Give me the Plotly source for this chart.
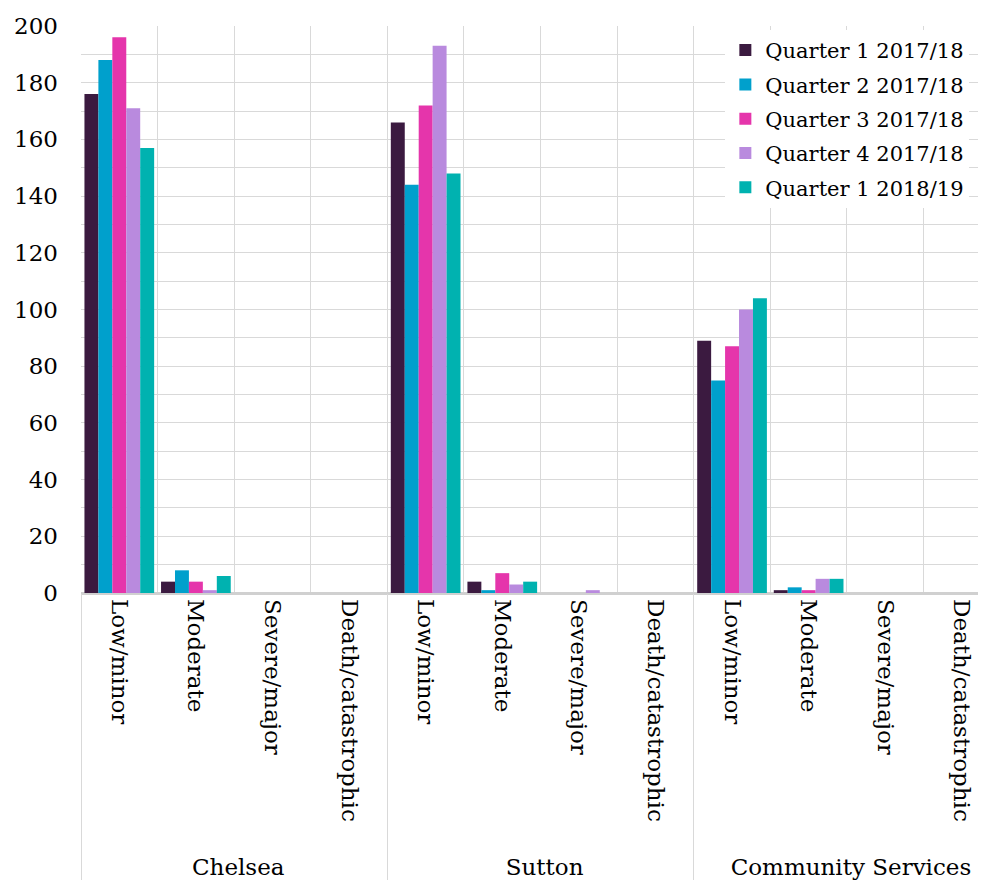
import plotly.graph_objects as go

groups = ["Chelsea", "Sutton", "Community Services"]
severities = ["Low/minor", "Moderate", "Severe/major", "Death/catastrophic"]
series_names = ["Quarter 1 2017/18", "Quarter 2 2017/18", "Quarter 3 2017/18",
                "Quarter 4 2017/18", "Quarter 1 2018/19"]
colors = ["#3b1a40", "#00a0cc", "#e535ab", "#b98ade", "#00b2b0"]

# values per series, ordered Chelsea(4), Sutton(4), Community Services(4)
q1_1718 = [176, 4, 0, 0, 166, 4, 0, 0, 89, 1, 0, 0]
q2_1718 = [188, 8, 0, 0, 144, 1, 0, 0, 75, 2, 0, 0]
q3_1718 = [196, 4, 0, 0, 172, 7, 0, 0, 87, 1, 0, 0]
q4_1718 = [171, 1, 0, 0, 193, 3, 1, 0, 100, 5, 0, 0]
q1_1819 = [157, 6, 0, 0, 148, 4, 0, 0, 104, 5, 0, 0]
series_values = [q1_1718, q2_1718, q3_1718, q4_1718, q1_1819]

xg = [g for g in groups for _ in severities]
xs = [s for _ in groups for s in severities]
# invisible trailing padding on the longest label to push group labels lower
xs = [s + "\u00a0\u00a0" if s == "Death/catastrophic" else s for s in xs]

FONT = "DejaVu Serif"

fig = go.Figure()
for name, vals, col in zip(series_names, series_values, colors):
    fig.add_trace(go.Bar(x=[xg, xs], y=vals, name=name, marker_color=col,
                         marker_line_width=0, legendgroup=name))

fig.update_layout(
    width=986, height=883,
    margin=dict(l=73, r=0, t=18, b=298),
    plot_bgcolor="white", paper_bgcolor="white",
    barmode="group", bargap=0.09, bargroupgap=0,
    font=dict(family=FONT, size=23, color="#000000"),
    showlegend=True,
    legend=dict(x=0.973, y=0.993, xanchor="right", yanchor="top",
                bgcolor="white", font=dict(family=FONT, size=21),
                itemwidth=30, tracegroupgap=4),
)
fig.update_xaxes(
    type="multicategory", tickangle=90, tickson="boundaries",
    showgrid=True, gridcolor="#d9d9d9", gridwidth=1,
    showline=False, ticks="", automargin=False,
    showdividers=True, dividercolor="#d9d9d9", dividerwidth=1,
    range=[-0.5, 11.42], ticklabelstandoff=5,
)
fig.update_yaxes(
    range=[0, 200], dtick=20, showgrid=True, gridcolor="#d9d9d9", gridwidth=1,
    minor=dict(dtick=10, showgrid=True, gridcolor="#d9d9d9", gridwidth=1),
    zeroline=True, zerolinecolor="#d0d0d0", zerolinewidth=3,
    ticklabelstandoff=22, automargin=False,
)
fig.write_html("out.html")
